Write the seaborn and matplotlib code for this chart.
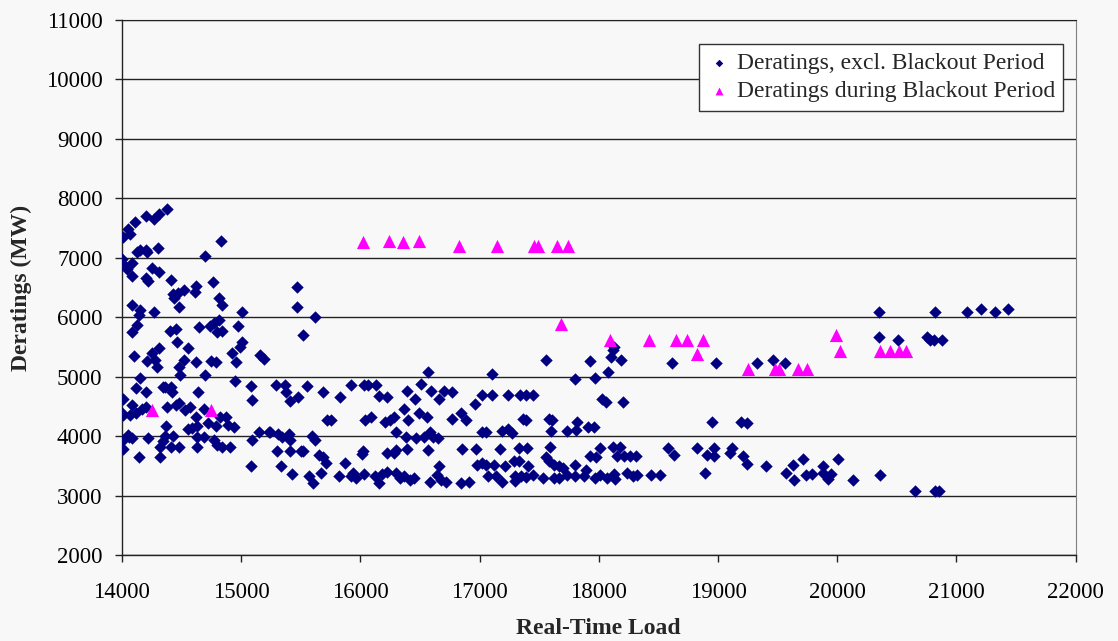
import matplotlib
matplotlib.use('Agg')
import matplotlib.pyplot as plt
import pandas as pd
import seaborn as sns

# Derating points outside the blackout period (load MW, derating MW)
excl_load = [
    14380, 14200, 14270, 14310, 14110, 14050, 14070, 14010, 14830, 14130, 14150, 14200, 14210, 14300, 14000,
    14020, 14080, 14040, 14080, 14700, 14250, 14310, 14200, 14220, 14410, 14760, 14620, 14610, 14430, 14470,
    14520, 14440, 14480, 14810, 14840, 14080, 14150, 14140, 14130, 14270, 15010, 15470, 15470, 15620, 15520,
    14080, 14400, 14450, 14650, 14740, 14770, 14810, 14800, 14840, 14970, 14460, 14550, 15010, 14990, 14310,
    14100, 14210, 14250, 14280, 14290, 14480, 14490, 14520, 14620, 14700, 14750, 14790, 14920, 14960, 15160,
    15190, 14150, 14120, 14200, 14010, 14080, 14170, 14200, 14120, 14000, 14010, 14070, 14050, 14060, 14080,
    14010, 14010, 14140, 14220, 14340, 14360, 14410, 14420, 14380, 14450, 14480, 14530, 14570, 14640, 14690,
    14620, 14630, 14550, 14590, 14370, 14360, 14340, 14320, 14320, 14410, 14430, 14480, 14630, 14630, 14690,
    14720, 14790, 14770, 14800, 14840, 14910, 14820, 14870, 14890, 14940, 14950, 15080, 15090, 15090, 15150,
    15080, 15230, 15240, 15290, 15310, 15340, 15300, 15330, 15370, 15380, 15410, 15400, 15410, 15410, 15430,
    15480, 15500, 15550, 15590, 15620, 15570, 15600, 15650, 15670, 15690, 15710, 15690, 15720, 15520,
    15830, 15750, 15870, 15820, 15920, 16030, 16060, 16130, 16160, 16220, 16040, 16090, 16210, 16250, 16280,
    16300, 16370, 16400, 16390, 16460, 16510, 16570, 16590, 16490, 16560, 16380, 16470, 16530, 16580, 16610,
    16650, 16660, 16700, 16770, 16020, 16010, 16220, 16280, 16300, 16390, 16570, 16660, 15920, 15940, 15960,
    16030, 16120, 16160, 16180, 16220, 16300, 16330, 16370, 16420, 16450, 16580, 16640, 16680, 16720, 16770,
    16840, 16890, 16840, 16910, 16850, 16970, 16960, 17020, 17100, 17100, 17020, 17050, 16980, 17020, 17050,
    17120, 17070, 17140, 17190, 17170, 17210, 17190, 17240, 17270, 17240, 17290, 17330, 17300, 17300, 17330,
    17350, 17400, 17410, 17390, 17450, 17340, 17390, 17450, 17360, 17390, 17530, 17560, 17590, 17560, 17580,
    17620, 17580, 17610, 17600, 17670, 17700, 17620, 17670, 17730, 17730,
    18130,
    17930, 18100, 18190, 18120, 17800, 17970, 18080, 18030, 18060, 18200, 18610, 18980, 19330, 19460, 19560,
    17820, 17810, 17910, 17960, 18950, 19190, 19240, 18010, 17930, 17980, 18120, 18180, 18150, 18210, 18260,
    18310, 17800, 17800, 17890, 17880, 17970, 18010, 18070, 18130, 18140, 18240, 18290, 18320, 18440, 18510,
    18580, 18630, 18820, 18910, 18970, 18970, 18890, 19120, 19100, 19210, 19240, 19400, 19570, 19630, 19640,
    19710, 19740,
    20350, 20820, 21090, 21210, 21320, 21430, 20350, 20510, 20750, 20780, 20810, 20880,
    19790, 19880, 19880, 19920, 19950, 20010, 20130, 20360, 20650, 20820, 20850,
]
excl_derating = [
    7820, 7710, 7650, 7740, 7600, 7480, 7410, 7360, 7280, 7100, 7130, 7140, 7100, 7160, 6990,
    6880, 6910, 6810, 6700, 7030, 6840, 6770, 6660, 6610, 6630, 6590, 6530, 6430, 6400, 6420,
    6470, 6320, 6180, 6320, 6210, 6210, 6130, 6040, 5880, 6100, 6090, 6520, 6170, 6010, 5710,
    5750, 5780, 5800, 5840, 5850, 5900, 5960, 5750, 5780, 5850, 5580, 5490, 5580, 5510, 5480,
    5360, 5270, 5400, 5290, 5160, 5170, 5030, 5290, 5250, 5030, 5270, 5250, 5400, 5260, 5370,
    5310, 4990, 4810, 4740, 4630, 4530, 4470, 4500, 4390, 4390, 4360, 4360, 4030, 3990, 3970,
    3940, 3790, 3660, 3970, 4830, 4840, 4830, 4750, 4490, 4530, 4570, 4450, 4490, 4750, 4460,
    4330, 4170, 4120, 4140, 4170, 4000, 3920, 3830, 3660, 3830, 4000, 3830, 3990, 3830, 3990,
    4230, 4170, 3940, 3860, 3830, 3830, 4330, 4330, 4200, 4160, 4930, 4850, 4610, 3940, 4080,
    3500, 4080, 4070, 4870, 4050, 3990, 3750, 3500, 4870, 4750, 4600, 4050, 3940, 3760, 3370,
    4670, 3760, 4850, 4010, 3940, 3340, 3220, 3690, 3380, 3660, 3560, 4750, 4270, 3760,
    4670, 4270, 3560, 3340, 4860, 4870, 4870, 4870, 4680, 4660, 4270, 4320, 4250, 4280, 4330,
    4080, 4460, 4270, 4770, 4630, 4890, 5090, 4770, 4390, 4320, 3990, 3970, 3990, 4080, 3990,
    3970, 4630, 4770, 4750, 3760, 3710, 3720, 3720, 3780, 3790, 3780, 3510, 3340, 3380, 3300,
    3370, 3330, 3220, 3370, 3400, 3380, 3300, 3330, 3270, 3310, 3230, 3360, 3270, 3230, 4300,
    4390, 4280, 3220, 3240, 3790, 3790, 4550, 4700, 4700, 5050, 4070, 4070, 3520, 3550, 3520,
    3520, 3340, 3330, 3230, 3790, 3500, 4090, 4120, 4060, 4700, 3580, 3580, 3340, 3260, 3800,
    3330, 3800, 3500, 3320, 3360, 4700, 4700, 4690, 4290, 4280, 3300, 5290, 3830, 3660, 3580,
    3520, 4290, 4280, 4090, 3500, 3470, 3300, 3300, 4090, 3360,
    5510,
    5270, 5340, 5290, 5450, 4970, 4980, 5080, 4630, 4580, 4580, 5230, 5230, 5230, 5290, 5230,
    4250, 4110, 4160, 4160, 4240, 4240, 4220, 3810, 3680, 3660, 3820, 3820, 3680, 3680, 3680,
    3680, 3520, 3330, 3440, 3340, 3300, 3360, 3300, 3370, 3280, 3380, 3340, 3360, 3360, 3360,
    3810, 3690, 3810, 3690, 3810, 3680, 3380, 3810, 3720, 3680, 3540, 3500, 3380, 3520, 3270,
    3620, 3360,
    6090, 6090, 6090, 6140, 6090, 6140, 5680, 5620, 5680, 5620, 5620, 5620,
    3370, 3510, 3380, 3280, 3370, 3620, 3270, 3360, 3080, 3080, 3080,
]

# Derating points during the blackout period
blackout_load = [
    14250, 14750, 16020, 16240, 16360, 16490, 16830, 17150, 17460, 17490, 17650, 17740, 17680,
    18090, 18420, 18650, 18740, 18870, 18820, 19250, 19480, 19510, 19670, 19750,
    19990, 20020, 20360, 20440, 20520, 20580,
]
blackout_derating = [
    4450, 4450, 7270, 7280, 7270, 7280, 7200, 7200, 7200, 7200, 7200, 7200, 5890,
    5630, 5630, 5630, 5630, 5630, 5390, 5130, 5130, 5130, 5130, 5130,
    5700, 5430, 5430, 5430, 5430, 5430,
]

x_ticks = list(range(14000, 22001, 1000))
y_ticks = list(range(2000, 11001, 1000))

label_excl = 'Deratings, excl. Blackout Period'
label_black = 'Deratings during Blackout Period'

df_excl = pd.DataFrame({'load': excl_load, 'derating': excl_derating})
df_black = pd.DataFrame({'load': blackout_load, 'derating': blackout_derating})

sns.set_style('ticks')
plt.rcParams['font.family'] = ['Liberation Serif', 'DejaVu Serif']

bg = '#f8f8f8'
fig = plt.figure(figsize=(11.18, 6.41), dpi=100, facecolor=bg)
ax = fig.add_axes([0.1091, 0.1334, 0.9621 - 0.1091, 0.9688 - 0.1334])
ax.set_facecolor(bg)

sns.scatterplot(data=df_excl, x='load', y='derating', ax=ax, marker='D', s=40,
                color='#000080', linewidth=0, label=label_excl, zorder=3)
sns.scatterplot(data=df_black, x='load', y='derating', ax=ax, marker='^', s=90,
                color='#ff00ff', linewidth=0, label=label_black, zorder=4)

ax.set_xlim(14000, 22000)
ax.set_ylim(2000, 11000)
ax.set_xticks(x_ticks)
ax.set_yticks(y_ticks)
ax.yaxis.grid(True, color='#222222', linewidth=1.0, zorder=0)
ax.set_axisbelow(True)

for side in ['left', 'bottom']:
    ax.spines[side].set_color('#222222')
    ax.spines[side].set_linewidth(1.0)
ax.spines['top'].set_visible(True)
ax.spines['top'].set_color('#222222')
ax.spines['right'].set_visible(True)
ax.spines['right'].set_color('#808080')

ax.tick_params(axis='x', length=5, width=1, pad=14, labelsize=16.5, colors='#222222', labelcolor='black')
ax.tick_params(axis='y', length=5, width=1, pad=9, labelsize=16.5, colors='#222222', labelcolor='black')

ax.set_xlabel('Real-Time Load', fontsize=17, fontweight='bold', labelpad=11)
ax.set_ylabel('Deratings (MW)', fontsize=17, fontweight='bold', labelpad=10)

leg = ax.legend(loc='upper right', bbox_to_anchor=(0.987, 0.955), borderaxespad=0,
                fontsize=17, frameon=True, fancybox=False, framealpha=1,
                edgecolor='#333333', facecolor='white', handletextpad=0.25,
                handlelength=1.0, borderpad=0.35, labelspacing=0.3, markerscale=0.6)
leg.get_frame().set_linewidth(1.0)

fig.savefig('out.png', dpi=100, facecolor=bg)
